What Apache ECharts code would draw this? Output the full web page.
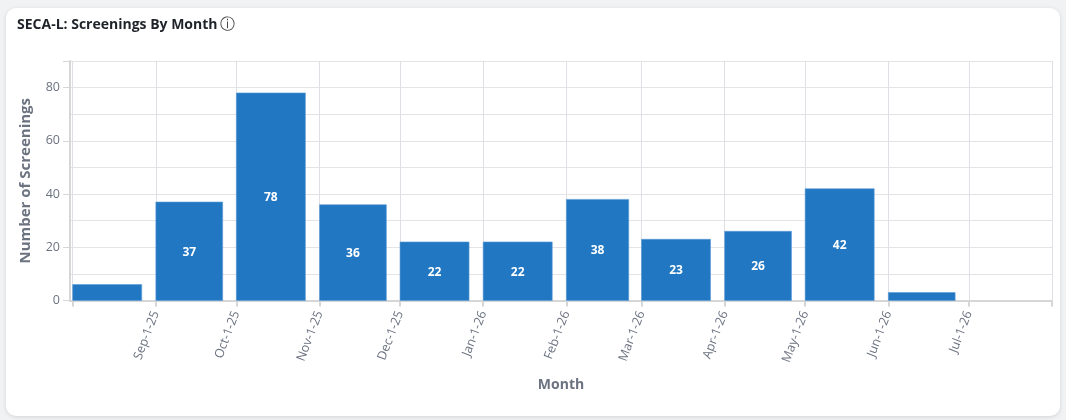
<!DOCTYPE html>
<html>
<head>
<meta charset="utf-8">
<script src="https://cdn.jsdelivr.net/npm/echarts@6/dist/echarts.min.js"></script>
<style>
  html, body { margin:0; padding:0; width:1066px; height:420px; background:#f1f2f4; overflow:hidden; }
  #card { position:absolute; left:6px; top:8px; width:1054px; height:408px; background:#fff; border-radius:10px; box-shadow:0 1px 4px rgba(0,0,0,0.12); }
  #chart { position:absolute; left:0; top:0; width:1066px; height:420px; }
</style>
</head>
<body>
<div id="card"></div>
<div id="chart"></div>
<script>
const months = ['2025-08-01','2025-09-01','2025-10-01','2025-11-01','2025-12-01','2026-01-01',
                '2026-02-01','2026-03-01','2026-04-01','2026-05-01','2026-06-01'];
const screenings = [6, 37, 78, 36, 22, 22, 38, 23, 26, 42, 3];
const yTicks = [0, 20, 40, 60, 80];
const xLabelFirst = '2025-09-01';
const xLabelLast = '2026-07-01';
const axisMin = '2025-07-31';
const axisMax = '2026-08-01';

function toLocal(s){ const p = s.split('-').map(Number); return new Date(p[0], p[1]-1, p[2]).getTime(); }

const chart = echarts.init(document.getElementById('chart'), null, {renderer:'canvas'});
const FONT = '"Open Sans", "Noto Sans", sans-serif';
const MON = ['Jan','Feb','Mar','Apr','May','Jun','Jul','Aug','Sep','Oct','Nov','Dec'];

chart.setOption({
  backgroundColor: 'transparent',
  textStyle: { fontFamily: FONT },
  title: {
    text: 'SECA-L: Screenings By Month{i|ⓘ}',
    left: 12, top: 13,
    textStyle: {
      fontSize: 14, fontWeight: 'bold', color: '#1f2329', fontFamily: FONT,
      rich: { i: { fontSize: 15, fontWeight: 'normal', color: '#444', fontFamily: 'DejaVu Sans', padding:[0,0,0,2] } }
    }
  },
  grid: { left: 70, right: 14, top: 61, bottom: 119.5 },
  xAxis: {
    type: 'time',
    min: toLocal(axisMin),
    max: toLocal(axisMax),
    minInterval: 28 * 86400000,
    maxInterval: 31 * 86400000,
    name: 'Month',
    nameLocation: 'middle',
    nameGap: 78,
    nameTextStyle: { fontSize: 14, fontWeight: 'bold', color: '#6b7280', fontFamily: FONT },
    axisLine: { show: true, lineStyle: { color: '#d6d6d6', width: 2 } },
    axisTick: { show: true, length: 6, lineStyle: { color: '#d6d6d6', width: 2 } },
    splitLine: { show: true, lineStyle: { color: '#dfdfe6', width: 1 } },
    axisLabel: {
      rotate: 69,
      color: '#6b7280',
      fontSize: 12.5,
      fontFamily: FONT,
      margin: 11,
      hideOverlap: false,
      formatter: function (v) {
        if (v < toLocal(xLabelFirst) || v > toLocal(xLabelLast)) return '';
        const d = new Date(v);
        return MON[d.getMonth()] + '-' + d.getDate() + '-' + String(d.getFullYear()).slice(2);
      }
    }
  },
  yAxis: {
    type: 'value',
    min: 0, max: 90, interval: 20,
    name: 'Number of Screenings',
    nameLocation: 'middle',
    nameGap: 37,
    nameTextStyle: { fontSize: 15, fontWeight: 'bold', color: '#6b7280', fontFamily: FONT },
    axisLine: { show: true, lineStyle: { color: '#d6d6d6', width: 2 } },
    axisTick: { show: true, length: 7, lineStyle: { color: '#d6d6d6', width: 1 } },
    axisLabel: {
      color: '#6b7280', fontSize: 12.5, fontFamily: FONT, margin: 10,
      formatter: v => yTicks.indexOf(v) >= 0 ? String(v) : ''
    },
    splitLine: { show: true, lineStyle: { color: '#e3e3e8' } },
    minorTick: { show: false, splitNumber: 2 },
    minorSplitLine: { show: true, lineStyle: { color: '#e3e3e8' } }
  },
  series: [{
    type: 'custom',
    data: months.map((m, i) => [toLocal(m), screenings[i]]),
    encode: { x: 0, y: 1 },
    renderItem: function (params, api) {
      const start = api.value(0);
      const val = api.value(1);
      const d = new Date(start);
      const next = new Date(d.getFullYear(), d.getMonth() + 1, 1).getTime();
      const base = api.coord([start, 0]);
      const top = api.coord([start, val]);
      const endP = api.coord([next, 0]);
      const w = (endP[0] - base[0]) * 0.83;
      const h = base[1] - top[1];
      const children = [{
        type: 'rect',
        shape: { x: base[0], y: top[1], width: w, height: h },
        style: { fill: '#2177c2', stroke: '#5b9bd6', lineWidth: 0.6 }
      }];
      if (h > 24) {
        children.push({
          type: 'text',
          style: {
            text: String(val),
            x: base[0] + w / 2, y: top[1] + h / 2 + 1,
            align: 'center', verticalAlign: 'middle',
            fill: '#ffffff', fontSize: 12, fontWeight: 'bold', fontFamily: FONT
          }
        });
      }
      return { type: 'group', children: children };
    }
  }]
});
</script>
</body>
</html>
